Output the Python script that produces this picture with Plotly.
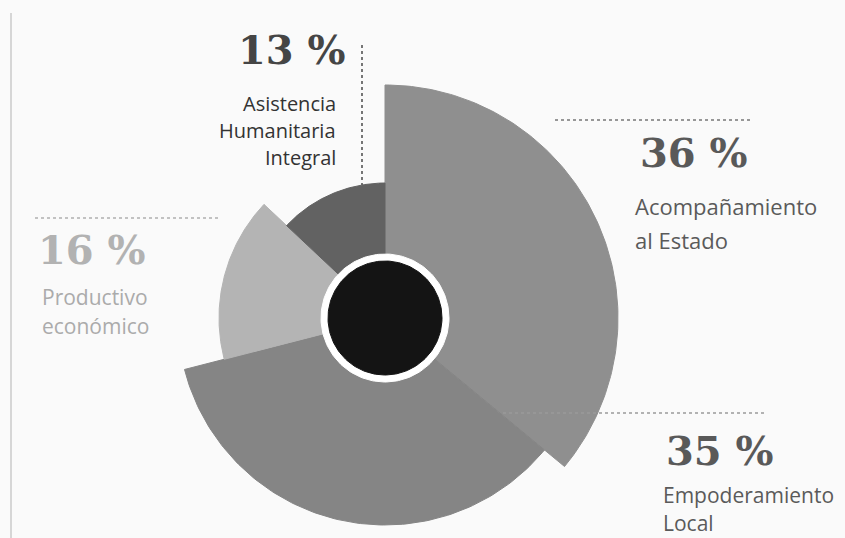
import numpy as np
import plotly.graph_objects as go

# Programme areas, their share of the budget and the radius of each wedge
areas = ["Acompañamiento al Estado", "Empoderamiento Local",
         "Productivo económico", "Asistencia Humanitaria Integral"]
shares = [36, 35, 16, 13]
radii = [233, 207, 166, 135]
fills = ["#8f8f8f", "#858585", "#b4b4b4", "#626262"]

W, H = 845, 538
CX, CY = 385, 318  # pixel position of the centre of the chart


def px(x, y):
    """Pixel position (from top-left) to data coordinates."""
    return x - CX, CY - y


fig = go.Figure()

# background page rule on the left
fig.add_shape(type="line", x0=px(11, 13)[0], y0=px(11, 13)[1],
              x1=px(11, 538)[0], y1=px(11, 538)[1],
              line=dict(color="#d6d6d6", width=2))

# wedges, clockwise from 12 o'clock
start = 0.0
for name, share, r, col in zip(areas, shares, radii, fills):
    end = start + share / 100 * 2 * np.pi
    t = np.linspace(start, end, 120)
    xs = np.concatenate([[0], r * np.sin(t), [0]])
    ys = np.concatenate([[0], r * np.cos(t), [0]])
    fig.add_trace(go.Scatter(x=xs, y=ys, mode="lines", fill="toself",
                             fillcolor=col, line=dict(color=col, width=1),
                             name=name, hoverinfo="name", showlegend=False))
    start = end

# white ring and black hub in the centre
circ = np.linspace(0, 2 * np.pi, 200)
for rad, col in [(64, "#ffffff"), (57, "#141414")]:
    fig.add_trace(go.Scatter(x=rad * np.cos(circ), y=rad * np.sin(circ),
                             mode="lines", fill="toself", fillcolor=col,
                             line=dict(color=col, width=1),
                             hoverinfo="skip", showlegend=False))

# dotted leader lines
leaders = [
    ((362, 45), (362, 185), "#555555"),
    ((555, 120), (752, 120), "#777777"),
    ((35, 218), (218, 218), "#b0b0b0"),
    ((503, 413), (767, 413), "#9a9a9a"),
]
for (x0, y0), (x1, y1), col in leaders:
    a, b = px(x0, y0)
    c, d = px(x1, y1)
    fig.add_shape(type="line", x0=a, y0=b, x1=c, y1=d,
                  line=dict(color=col, width=1.6, dash="dot"))

NUM_FONT = "DejaVu Serif"
TXT_FONT = "Open Sans"


def label(text, x, y, size, color, family, anchor="left", bold=False):
    a, b = px(x, y)
    fig.add_annotation(x=a, y=b, text=f"<b>{text}</b>" if bold else text,
                       showarrow=False, xanchor=anchor, yanchor="middle",
                       font=dict(family=family, size=size, color=color))


# percentages
pct = [f"{s} %" for s in shares]
label(pct[3], 236, 49, 40, "#454545", NUM_FONT, bold=True)
label(pct[0], 638, 152, 40, "#595959", NUM_FONT, bold=True)
label(pct[2], 36, 249, 40, "#b2b2b2", NUM_FONT, bold=True)
label(pct[1], 664, 450, 40, "#595959", NUM_FONT, bold=True)

# area names
for i, line in enumerate(["Asistencia", "Humanitaria", "Integral"]):
    label(line, 338, 103 + 27 * i, 20, "#333333", TXT_FONT, anchor="right")
for i, line in enumerate(["Acompañamiento", "al Estado"]):
    label(line, 633, 206 + 34 * i, 22, "#5a5a5a", TXT_FONT)
for i, line in enumerate(["Productivo", "económico"]):
    label(line, 40, 297 + 29 * i, 21, "#ababab", TXT_FONT)
for i, line in enumerate(["Empoderamiento", "Local"]):
    label(line, 661, 495 + 28 * i, 21, "#5a5a5a", TXT_FONT)

fig.update_layout(
    width=W, height=H,
    margin=dict(l=0, r=0, t=0, b=0),
    paper_bgcolor="#fafafa", plot_bgcolor="#fafafa",
    xaxis=dict(range=[-CX, W - CX], visible=False, fixedrange=True),
    yaxis=dict(range=[CY - H, CY], visible=False, fixedrange=True),
    showlegend=False,
)

fig.write_html("out.html")
